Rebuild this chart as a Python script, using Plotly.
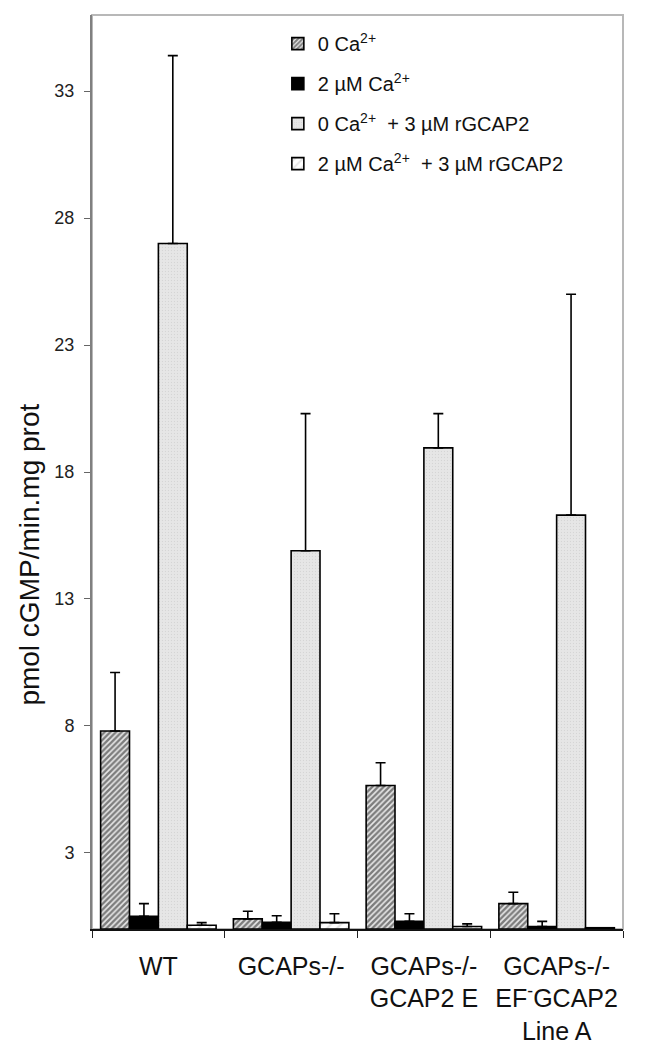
import plotly.graph_objects as go

# groups on the x axis
GROUPS = ["WT", "GCAPs-/-", "GCAPs-/- E", "GCAPs-/- EF Line A"]
GROUP_LABELS = ["WT", "GCAPs-/-", "GCAPs-/-<br>GCAP2 E",
                "GCAPs-/-<br>EF<sup>-</sup>GCAP2<br>Line A"]

SERIES = ["0 Ca<sup>2+</sup>",
          "2 \u00b5M Ca<sup>2+</sup>",
          "0 Ca<sup>2+</sup>  + 3 \u00b5M rGCAP2",
          "2 \u00b5M Ca<sup>2+</sup>  + 3 \u00b5M rGCAP2"]

# pmol cGMP/min.mg prot, one list per series (WT, GCAPs-/-, GCAP2 E, Line A)
ca0 = [7.8, 0.4, 5.65, 1.0]
ca0_err = [2.3, 0.3, 0.9, 0.45]
ca2 = [0.5, 0.26, 0.3, 0.1]
ca2_err = [0.5, 0.26, 0.3, 0.2]
ca0_gcap = [27.0, 14.9, 18.95, 16.3]
ca0_gcap_err = [7.4, 5.4, 1.35, 8.7]
ca2_gcap = [0.15, 0.25, 0.1, 0.05]
ca2_gcap_err = [0.1, 0.35, 0.1, 0.0]

Y_TICKS = [3, 8, 13, 18, 23, 28, 33]

# fill style per series: hatched, solid black, dotted light grey, light hatch
_STYLE = [
    dict(color="white", pattern=dict(shape="/", fgcolor="#111", bgcolor="#e8e8e8",
                                     size=4, solidity=0.6)),
    dict(color="black"),
    dict(color="#e4e4e4", pattern=dict(shape=".", fgcolor="#c4c4c4", bgcolor="#e6e6e6",
                                       size=3, solidity=0.15)),
    dict(color="white", pattern=dict(shape="/", fgcolor="#c8c8c8", bgcolor="white",
                                     size=7, solidity=0.3)),
]

fig = go.Figure()
for i, (name, vals, errs) in enumerate(zip(
        SERIES, [ca0, ca2, ca0_gcap, ca2_gcap],
        [ca0_err, ca2_err, ca0_gcap_err, ca2_gcap_err])):
    fig.add_trace(go.Bar(
        x=GROUPS, y=vals, name=name, legendgroup=f"g{i}",
        marker=dict(line=dict(color="black", width=1.6), **_STYLE[i]),
        error_y=dict(type="data", array=errs, arrayminus=[0] * len(errs),
                     symmetric=False, color="black", thickness=1.6, width=5),
    ))

fig.update_layout(
    width=648, height=1054,
    margin=dict(l=84, r=33, t=7, b=133),
    paper_bgcolor="white", plot_bgcolor="white",
    font=dict(family="Liberation Sans, Arial, sans-serif", color="#111"),
    barmode="group", bargap=0.13, bargroupgap=0,
    legend=dict(x=0.35, y=0.99, xanchor="left", yanchor="top",
                font=dict(size=20, color="#111"), bgcolor="rgba(0,0,0,0)",
                traceorder="grouped", tracegroupgap=11, itemwidth=30),
    showlegend=True,
)
fig.update_xaxes(
    tickmode="array", tickvals=GROUPS, ticktext=GROUP_LABELS,
    tickson="boundaries", ticks="outside", ticklen=7, tickcolor="#222",
    showline=True, linecolor="#111", linewidth=1.5,
    tickfont=dict(size=25, color="#111"), ticklabelstandoff=14,
)
fig.update_yaxes(
    range=[0, 36], tickmode="array", tickvals=Y_TICKS,
    ticks="outside", ticklen=6, tickcolor="#666",
    showline=True, linecolor="#808080", linewidth=2,
    showgrid=False, zeroline=False,
    tickfont=dict(size=18, color="#222"), ticklabelstandoff=6,
)
# light grey frame on top and right side of the plot area
fig.add_shape(type="rect", xref="paper", yref="paper", x0=0, x1=1, y0=0, y1=1,
              line=dict(color="#b8b8b8", width=2), layer="below")
fig.add_annotation(text="pmol cGMP/min.mg prot", textangle=-90,
                   xref="paper", yref="paper", x=-0.118, y=0.41,
                   xanchor="center", yanchor="middle", showarrow=False,
                   font=dict(size=28, color="#111"))

fig.write_html("out.html")
